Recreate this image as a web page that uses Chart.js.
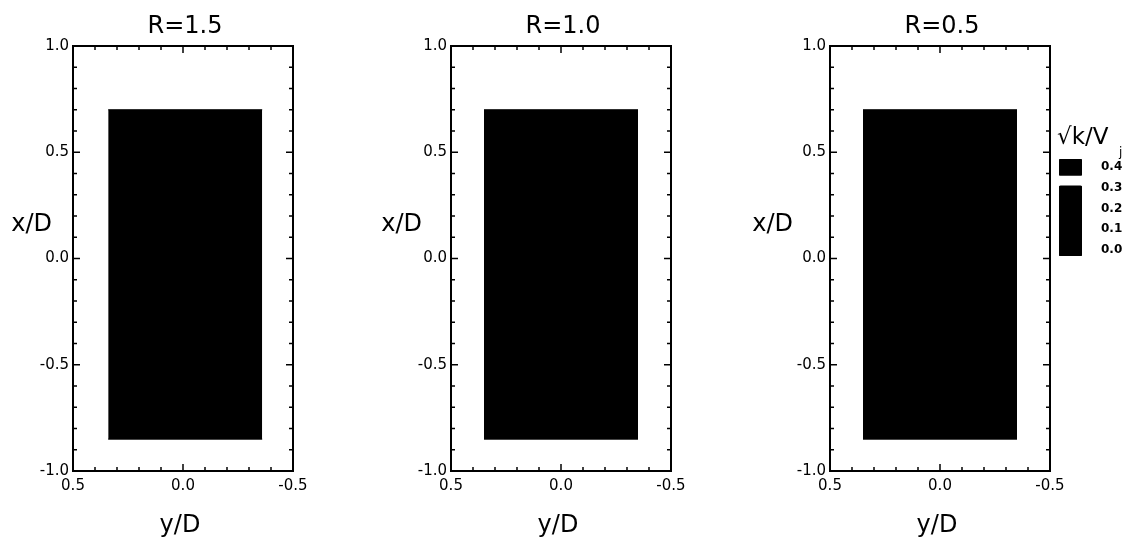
<!DOCTYPE html>
<html>
<head>
<meta charset="utf-8">
<script src="https://cdn.jsdelivr.net/npm/chart.js@4/dist/chart.umd.min.js"></script>
<style>
  html, body { margin: 0; padding: 0; background: #fff; }
  #wrap { position: relative; width: 1132px; height: 546px; overflow: hidden; }
  canvas { position: absolute; top: 0; }
</style>
</head>
<body>
<div id="wrap">
  <canvas id="p0" width="390" height="546" style="left:-20px"></canvas>
  <canvas id="p1" width="390" height="546" style="left:358px"></canvas>
  <canvas id="p2" width="390" height="546" style="left:737px"></canvas>
  <canvas id="lg" width="82" height="546" style="left:1050px"></canvas>
</div>
<script>
// ---- data ----
const panelTitles = ['R=1.5', 'R=1.0', 'R=0.5'];
const yDLeft   = [0.34, 0.35, 0.35];     // left edge of filled region (y/D)
const yDRight  = [-0.36, -0.35, -0.35];  // right edge (y/D)
const xDTop    = [0.70, 0.70, 0.70];     // top edge (x/D)
const xDBottom = [-0.85, -0.85, -0.85];  // bottom edge (x/D)
const xDTickLabels = [-1.0, -0.5, 0.0, 0.5, 1.0];
const yDTickLabels = [0.5, 0.0, -0.5];
const legendTickLabels = [0.0, 0.1, 0.2, 0.3, 0.4];
const legendLow  = [-0.03, 0.36];
const legendHigh = [0.31, 0.44];
const xAxisTitle = 'y/D';
const yAxisTitle = 'x/D';
const legendTitle = '√k/V';
const legendSub = 'j';

// ---- layout ----
const FONT = 'DejaVu Sans';
const yLabelPos = [{x: 72, y: 225}, {x: 64, y: 225}, {x: 56, y: 225}]; // right edge of "x/D" in canvas coords

function makeTicks(min, max, step) {
  const arr = [];
  const n = Math.round((max - min) / step);
  for (let i = 0; i <= n; i++) arr.push({ value: +(min + i * step).toFixed(2) });
  return arr;
}
function isLabeled(v, list) { return list.some(t => Math.abs(t - v) < 1e-6); }

const panelDecor = {
  id: 'panelDecor',
  afterDraw(chart, args, opts) {
    const { ctx, chartArea: a, scales: { x, y } } = chart;
    ctx.save();
    ctx.strokeStyle = '#000';
    ctx.lineWidth = 1.5;
    const seg = (x1, y1, x2, y2) => { ctx.beginPath(); ctx.moveTo(x1, y1); ctx.lineTo(x2, y2); ctx.stroke(); };
    x.ticks.forEach(t => {
      const px = x.getPixelForValue(t.value);
      const L = t.label ? 7 : 4;
      seg(px, a.bottom, px, a.bottom - L);
      seg(px, a.top, px, a.top + L);
    });
    y.ticks.forEach(t => {
      const py = y.getPixelForValue(t.value);
      const L = t.label ? 7 : 4;
      seg(a.left, py, a.left + L, py);
      seg(a.right, py, a.right - L, py);
    });
    ctx.lineWidth = 2;
    ctx.strokeRect(a.left, a.top, a.right - a.left, a.bottom - a.top);
    ctx.fillStyle = '#000';
    ctx.textBaseline = 'alphabetic';
    ctx.textAlign = 'center';
    ctx.font = '24px "' + FONT + '"';
    ctx.fillText(opts.title, (a.left + a.right) / 2 + 2, 33);
    ctx.fillText(xAxisTitle, (a.left + a.right) / 2 - 3, 532);
    ctx.textAlign = 'right';
    ctx.textBaseline = 'middle';
    ctx.fillText(yAxisTitle, opts.yLabX, opts.yLabY);
    ctx.restore();
  }
};

function makePanel(i) {
  const tickFont = { family: FONT, size: 15 };
  return new Chart(document.getElementById('p' + i), {
    type: 'scatter',
    data: {
      datasets: [
        {
          data: [{ x: yDLeft[i], y: xDTop[i] }, { x: yDRight[i], y: xDTop[i] }],
          showLine: true, borderColor: '#000', backgroundColor: '#000',
          borderWidth: 1, pointRadius: 0, fill: '+1'
        },
        {
          data: [{ x: yDLeft[i], y: xDBottom[i] }, { x: yDRight[i], y: xDBottom[i] }],
          showLine: true, borderColor: '#000', backgroundColor: '#000',
          borderWidth: 1, pointRadius: 0, fill: false
        }
      ]
    },
    options: {
      responsive: false, animation: false, devicePixelRatio: 1,
      events: [],
      layout: { padding: { left: 53, right: 77, top: 46, bottom: 45 } },
      plugins: {
        legend: { display: false }, tooltip: { enabled: false },
        panelDecor: { title: panelTitles[i], yLabX: yLabelPos[i].x, yLabY: yLabelPos[i].y }
      },
      scales: {
        x: {
          type: 'linear', min: -0.5, max: 0.5, reverse: true,
          grid: { display: false, drawTicks: false }, border: { display: false },
          afterBuildTicks: s => { s.ticks = makeTicks(-0.5, 0.5, 0.1); },
          afterFit: s => { s.height = 30; s.paddingLeft = 0; s.paddingRight = 0; },
          ticks: {
            autoSkip: false, maxRotation: 0, minRotation: 0, padding: 6, color: '#000', font: tickFont,
            callback: v => isLabeled(v, yDTickLabels) ? Number(v).toFixed(1) : ''
          }
        },
        y: {
          type: 'linear', min: -1, max: 1,
          grid: { display: false, drawTicks: false }, border: { display: false },
          afterBuildTicks: s => { s.ticks = makeTicks(-1, 1, 0.1); },
          afterFit: s => { s.width = 40; s.paddingTop = 0; s.paddingBottom = 0; },
          ticks: {
            autoSkip: false, padding: 4, color: '#000', font: tickFont,
            callback: v => isLabeled(v, xDTickLabels) ? Number(v).toFixed(1) : ''
          }
        }
      }
    },
    plugins: [panelDecor]
  });
}
[0, 1, 2].forEach(makePanel);

const legendDecor = {
  id: 'legendDecor',
  afterDraw(chart) {
    const ctx = chart.ctx;
    ctx.save();
    ctx.fillStyle = '#000';
    ctx.textAlign = 'left';
    ctx.textBaseline = 'alphabetic';
    ctx.font = '23px "' + FONT + '"';
    ctx.fillText(legendTitle, 7, 144);
    ctx.font = '12px "' + FONT + '"';
    ctx.fillText(legendSub, 69, 156);
    ctx.restore();
  }
};

new Chart(document.getElementById('lg'), {
  type: 'bar',
  data: {
    labels: [''],
    datasets: legendLow.map((lo, i) => ({
      data: [[lo, legendHigh[i]]],
      backgroundColor: '#000', borderRadius: 2, borderSkipped: false,
      grouped: false, barPercentage: 1, categoryPercentage: 1
    }))
  },
  options: {
    responsive: false, animation: false, devicePixelRatio: 1, events: [],
    layout: { padding: { left: 9, right: 10, top: 159, bottom: 290 } },
    plugins: { legend: { display: false }, tooltip: { enabled: false } },
    scales: {
      x: { display: false },
      y: {
        position: 'right', min: -0.03, max: 0.44,
        grid: { display: false, drawTicks: false }, border: { display: false },
        afterBuildTicks: s => { s.ticks = legendTickLabels.map(v => ({ value: v })); },
        afterFit: s => { s.width = 40; s.paddingTop = 0; s.paddingBottom = 0; },
        ticks: {
          autoSkip: false, padding: 19, color: '#000',
          font: { family: FONT, size: 12, weight: 'bold' },
          callback: v => Number(v).toFixed(1)
        }
      }
    }
  },
  plugins: [legendDecor]
});
</script>
</body>
</html>
